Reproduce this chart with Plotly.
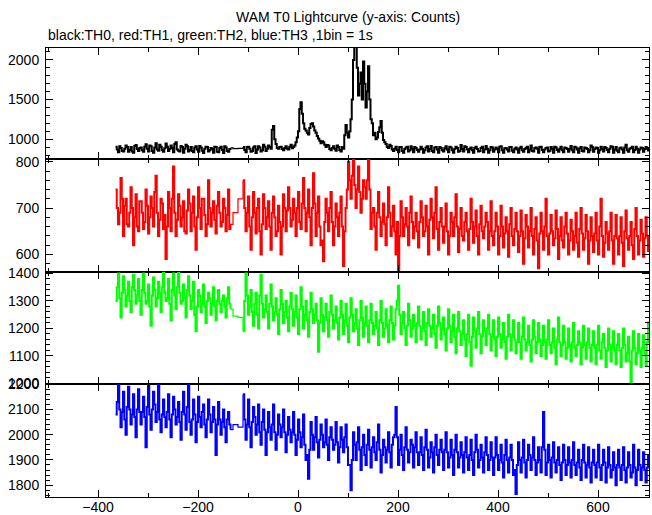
import plotly.graph_objects as go

# ---- time grid: 2.5 s samples, two wide bins inside the data gap ----
t_seg_a = [-365 + 2.5 * j for j in range(93)]    # -365 ... -135
t_gap = [-130, -120]
t_seg_b = [-110 + 2.5 * j for j in range(325)]   # -110 ... 700

# ---- counts: values on the 5 s grid ("even") ----
th0_even_a = [
    905, 835, 890, 845, 920, 840, 900, 830, 925, 850,
    895, 840, 935, 845, 910, 830, 950, 855, 905, 840,
    945, 850, 920, 835, 960, 855, 915, 830, 930, 845,
    900, 835, 910, 840, 895, 825, 905, 845, 890, 830,
    900, 835, 905, 825, 895, 840, 890]
th0_gap = [880, 885]
th0_even_b = [
    900, 835, 905, 840, 895, 825, 910, 845, 930, 850,
    920, 880, 1165, 940, 880, 905, 860, 910, 870, 930,
    900, 960, 1100, 1465, 1200, 1110, 1060, 1190, 1160, 1080,
    1010, 950, 960, 900, 920, 860, 910, 855, 900, 845,
    880, 1180, 1020, 1250, 2000, 2200, 1550, 1840, 1980, 1400,
    1920, 1250, 1050, 1000, 1090, 1230, 990, 940, 890, 915,
    850, 905, 835, 900, 830, 895, 845, 910, 835, 890,
    840, 905, 830, 895, 845, 915, 835, 900, 830, 890,
    845, 910, 835, 895, 830, 905, 840, 925, 845, 900,
    835, 895, 830, 905, 845, 890, 835, 915, 830, 900,
    840, 895, 835, 910, 830, 890, 845, 900, 835, 895,
    830, 905, 840, 890, 835, 920, 845, 895, 830, 905,
    835, 890, 845, 900, 830, 895, 840, 905, 835, 890,
    840, 915, 835, 895, 830, 900, 845, 890, 835, 920,
    840, 895, 830, 905, 845, 890, 835, 910, 830, 900,
    835, 895, 830, 930, 840, 890, 835, 905, 830, 895,
    840, 900, 845]
# values half-way between the 5 s samples ("mid")
th0_mid_a = [
    870, 910, 850, 880, 900, 865, 845, 915, 875, 890,
    860, 905, 880, 920, 850, 895, 870, 930, 860, 885,
    905, 875, 890, 940, 870, 845, 900, 880, 910, 865,
    850, 895, 870, 915, 855, 880, 900, 860, 875, 905,
    840, 890, 865, 910, 850, 875]
th0_mid_b = [
    865, 900, 880, 850, 910, 870, 895, 860, 905, 880,
    900, 1120, 1000, 890, 900, 875, 890, 880, 905, 885,
    920, 1020, 1380, 1320, 1130, 1080, 1140, 1200, 1110, 1040,
    980, 975, 930, 925, 875, 890, 880, 920, 865, 900,
    1050, 1080, 1100, 1500, 2200, 1900, 1700, 1500, 1700, 1600,
    1500, 1200, 1080, 1020, 1150, 1080, 960, 900, 930, 870,
    880, 865, 900, 850, 875, 905, 860, 880, 900, 865,
    870, 880, 860, 910, 875, 850, 895, 870, 900, 860,
    885, 870, 905, 860, 880, 890, 850, 875, 910, 870,
    880, 860, 890, 875, 850, 905, 870, 880, 860, 895,
    870, 880, 905, 860, 885, 870, 900, 855, 880, 870,
    885, 860, 875, 905, 870, 850, 890, 880, 900, 865,
    870, 895, 855, 880, 905, 865, 880, 860, 895, 875,
    880, 860, 905, 870, 885, 850, 895, 875, 860, 900,
    875, 890, 860, 880, 900, 865, 880, 905, 870, 855,
    885, 870, 895, 860, 880, 905, 865, 880, 870, 890,
    875, 880]

th1_even_a = [
    740, 665, 765, 640, 720, 660, 745, 620, 730, 650,
    715, 655, 740, 645, 725, 660, 770, 640, 720, 655,
    590, 735, 650, 790, 640, 730, 660, 715, 645, 740,
    650, 725, 610, 745, 655, 720, 640, 760, 660, 715,
    645, 735, 660, 720, 650, 740, 665]
th1_gap = [690, 720]
th1_even_b = [
    760, 650, 725, 610, 735, 645, 720, 600, 730, 655,
    715, 610, 725, 640, 705, 600, 730, 650, 745, 660,
    720, 640, 735, 655, 765, 650, 740, 620, 775, 640,
    725, 620, 585, 720, 650, 735, 620, 710, 640, 725,
    575, 700, 800, 720, 810, 700, 790, 690, 760, 720,
    810, 655, 700, 610, 735, 640, 710, 620, 745, 640,
    705, 600, 560, 715, 640, 700, 620, 725, 635, 690,
    615, 715, 640, 705, 600, 720, 635, 745, 610, 700,
    625, 710, 600, 690, 640, 730, 605, 700, 630, 690,
    610, 720, 625, 695, 600, 705, 635, 690, 610, 715,
    620, 690, 600, 705, 615, 680, 595, 700, 620, 690,
    605, 695, 580, 685, 615, 700, 600, 680, 570, 690,
    610, 720, 600, 685, 620, 695, 590, 680, 615, 690,
    600, 675, 610, 690, 595, 700, 610, 685, 580, 680,
    605, 690, 600, 720, 595, 670, 610, 690, 580, 685,
    600, 680, 575, 695, 610, 670, 590, 700, 600, 675,
    595, 680, 605]
th1_mid_a = [
    700, 690, 720, 705, 665, 690, 700, 680, 660, 715,
    690, 670, 705, 680, 700, 735, 690, 675, 710, 685,
    660, 700, 720, 690, 675, 705, 680, 650, 695, 710,
    690, 660, 680, 700, 720, 685, 665, 700, 690, 675,
    705, 690, 670, 700, 685, 655]
th1_mid_b = [
    700, 690, 660, 680, 690, 700, 650, 665, 700, 680,
    660, 690, 680, 650, 670, 660, 700, 695, 700, 675,
    690, 700, 670, 710, 700, 690, 680, 700, 710, 690,
    660, 630, 670, 690, 700, 670, 660, 680, 690, 660,
    650, 740, 760, 770, 750, 740, 735, 720, 745, 760,
    740, 690, 660, 690, 680, 670, 665, 680, 690, 660,
    650, 670, 640, 680, 665, 660, 690, 670, 660, 650,
    670, 680, 650, 660, 675, 680, 690, 655, 670, 660,
    660, 650, 640, 670, 680, 660, 655, 640, 670, 650,
    655, 670, 660, 640, 665, 650, 660, 670, 650, 640,
    650, 660, 640, 660, 645, 650, 665, 640, 655, 650,
    640, 650, 635, 660, 650, 640, 655, 630, 645, 650,
    660, 640, 645, 650, 635, 655, 640, 630, 660, 645,
    630, 650, 640, 625, 655, 645, 635, 650, 630, 640,
    645, 630, 660, 640, 625, 645, 650, 630, 640, 635,
    640, 625, 650, 635, 640, 620, 655, 640, 630, 645,
    635, 640]

th2_even_a = [
    1300, 1400, 1240, 1390, 1280, 1370, 1260, 1395, 1290, 1380,
    1250, 1400, 1290, 1360, 1210, 1385, 1280, 1370, 1260, 1405,
    1300, 1380, 1230, 1400, 1270, 1405, 1290, 1360, 1240, 1390,
    1270, 1370, 1190, 1340, 1260, 1360, 1220, 1330, 1250, 1350,
    1230, 1340, 1260, 1320, 1240, 1350, 1270]
th2_gap = [1245, 1240]
th2_even_b = [
    1190, 1400, 1250, 1340, 1210, 1330, 1200, 1395, 1240, 1320,
    1200, 1360, 1230, 1310, 1180, 1340, 1220, 1300, 1190, 1330,
    1210, 1320, 1180, 1350, 1200, 1300, 1170, 1330, 1220, 1290,
    1115, 1310, 1190, 1290, 1170, 1320, 1200, 1280, 1160, 1300,
    1180, 1290, 1150, 1310, 1190, 1270, 1140, 1300, 1170, 1280,
    1150, 1290, 1180, 1260, 1140, 1300, 1170, 1270, 1150, 1280,
    1160, 1270, 1355, 1180, 1260, 1140, 1290, 1170, 1250, 1150,
    1280, 1160, 1260, 1140, 1270, 1170, 1250, 1130, 1280, 1160,
    1240, 1120, 1270, 1150, 1250, 1110, 1260, 1140, 1230, 1100,
    1250, 1064, 1240, 1130, 1260, 1110, 1230, 1140, 1250, 1120,
    1230, 1100, 1240, 1130, 1220, 1090, 1250, 1120, 1230, 1110,
    1220, 1090, 1240, 1120, 1210, 1080, 1230, 1110, 1220, 1100,
    1210, 1090, 1230, 1110, 1200, 1070, 1240, 1100, 1210, 1090,
    1200, 1080, 1220, 1100, 1190, 1070, 1210, 1090, 1200, 1080,
    1190, 1070, 1210, 1090, 1180, 1060, 1200, 1080, 1190, 1070,
    1180, 1060, 1200, 1080, 1170, 995, 1190, 1070, 1180, 1060,
    1175, 1065, 1225]
th2_mid_a = [
    1350, 1310, 1330, 1340, 1320, 1300, 1350, 1340, 1320, 1300,
    1340, 1330, 1300, 1280, 1320, 1340, 1310, 1330, 1350, 1330,
    1310, 1290, 1340, 1320, 1350, 1330, 1300, 1310, 1340, 1320,
    1300, 1250, 1280, 1320, 1290, 1280, 1300, 1310, 1290, 1280,
    1300, 1290, 1300, 1280, 1310, 1290]
th2_mid_b = [
    1300, 1320, 1280, 1260, 1290, 1250, 1320, 1290, 1270, 1260,
    1290, 1280, 1260, 1250, 1270, 1290, 1260, 1240, 1280, 1270,
    1260, 1240, 1270, 1280, 1250, 1230, 1260, 1270, 1250, 1230,
    1220, 1250, 1240, 1230, 1260, 1250, 1230, 1220, 1240, 1250,
    1230, 1210, 1240, 1250, 1220, 1200, 1230, 1240, 1220, 1210,
    1230, 1220, 1210, 1200, 1230, 1220, 1200, 1210, 1230, 1220,
    1210, 1300, 1250, 1220, 1200, 1210, 1230, 1200, 1210, 1220,
    1210, 1200, 1190, 1220, 1210, 1200, 1180, 1210, 1220, 1200,
    1180, 1200, 1210, 1190, 1170, 1200, 1190, 1180, 1160, 1180,
    1150, 1170, 1190, 1200, 1180, 1170, 1190, 1200, 1180, 1170,
    1160, 1170, 1180, 1160, 1150, 1170, 1180, 1170, 1160, 1150,
    1150, 1170, 1160, 1150, 1140, 1160, 1170, 1150, 1160, 1140,
    1150, 1160, 1140, 1150, 1130, 1160, 1150, 1140, 1150, 1130,
    1140, 1150, 1130, 1140, 1150, 1130, 1140, 1150, 1130, 1140,
    1130, 1140, 1120, 1150, 1130, 1120, 1140, 1130, 1120, 1140,
    1120, 1130, 1140, 1110, 1080, 1120, 1130, 1110, 1120, 1130,
    1110, 1150]

th3_even_a = [
    2080, 2200, 2030, 2170, 2000, 2190, 2040, 2160, 1990, 2180,
    2040, 2150, 1950, 2200, 2020, 2170, 2050, 2200, 2010, 2140,
    2030, 2160, 1990, 2150, 2040, 2130, 1980, 2170, 2020, 2200,
    2000, 2140, 1970, 2150, 2030, 2120, 1990, 2140, 2010, 2110,
    1920, 2130, 2000, 2100, 1970, 2090, 2020]
th3_gap = [2040, 2030]
th3_even_b = [
    2160, 1980, 2140, 1950, 2110, 2000, 2120, 1960, 2100, 1920,
    2090, 1980, 2120, 1940, 2080, 1990, 2100, 1930, 2070, 1970,
    2090, 1920, 2060, 1950, 2080, 1900, 1825, 2050, 1940, 2070,
    1910, 2040, 1950, 2060, 1900, 2030, 1940, 2050, 1890, 2030,
    1930, 2040, 1880, 1780, 2010, 1900, 2030, 1860, 2000, 1880,
    2020, 1870, 1990, 1900, 2040, 1850, 1980, 1890, 2010, 1870,
    1990, 2110, 1880, 2000, 1860, 2030, 1890, 1980, 1870, 2010,
    1880, 1990, 1860, 2020, 1870, 1970, 1850, 2000, 1880, 1980,
    1860, 2010, 1870, 1980, 1840, 2000, 1870, 1970, 1850, 1990,
    1860, 1980, 1840, 2000, 1870, 1960, 1850, 1990, 1860, 1970,
    1840, 1990, 1860, 1960, 1830, 1980, 1850, 1960, 1840, 1765,
    1970, 1850, 1980, 1830, 1960, 1860, 1990, 1840, 1950, 1850,
    2090, 1840, 1960, 1830, 1970, 1850, 1950, 1820, 1960, 1840,
    1950, 1830, 1970, 1840, 1940, 1820, 1960, 1830, 1950, 1810,
    1940, 1830, 1960, 1820, 1940, 1810, 1950, 1830, 1930, 1800,
    1940, 1820, 1950, 1810, 1930, 1830, 1960, 1800, 1940, 1820,
    1930, 1810, 1920]
th3_mid_a = [
    2130, 2100, 2090, 2060, 2110, 2100, 2080, 2070, 2100, 2090,
    2090, 2070, 2110, 2080, 2100, 2120, 2090, 2060, 2080, 2070,
    2090, 2060, 2080, 2100, 2070, 2050, 2090, 2080, 2110, 2050,
    2060, 2080, 2050, 2070, 2090, 2040, 2060, 2080, 2050, 2060,
    2040, 2060, 2050, 2030, 2060, 2040]
th3_mid_b = [
    2060, 2040, 2030, 2050, 2070, 2040, 2010, 2050, 2020, 2010,
    2030, 2040, 2010, 2000, 2040, 2030, 2010, 2000, 2020, 2010,
    2000, 1980, 2010, 1990, 1960, 1920, 1940, 2000, 1990, 1970,
    1980, 2000, 1970, 1960, 1990, 1980, 1960, 1970, 1950, 1980,
    1990, 1950, 1880, 1900, 1960, 1970, 1940, 1950, 1920, 1960,
    1940, 1950, 1930, 1970, 1940, 1920, 1950, 1940, 1930, 1960,
    2000, 1990, 1940, 1920, 1950, 1940, 1930, 1960, 1950, 1930,
    1930, 1920, 1950, 1940, 1910, 1930, 1950, 1920, 1940, 1930,
    1940, 1930, 1910, 1920, 1940, 1930, 1910, 1920, 1930, 1910,
    1920, 1900, 1930, 1940, 1900, 1910, 1930, 1920, 1900, 1910,
    1910, 1920, 1900, 1890, 1920, 1900, 1910, 1900, 1860, 1880,
    1900, 1910, 1890, 1900, 1920, 1910, 1900, 1890, 1900, 1950,
    1940, 1890, 1900, 1910, 1890, 1900, 1880, 1890, 1900, 1880,
    1890, 1900, 1880, 1890, 1870, 1900, 1890, 1880, 1870, 1890,
    1880, 1890, 1870, 1880, 1890, 1870, 1880, 1860, 1870, 1880,
    1870, 1880, 1860, 1870, 1880, 1850, 1870, 1860, 1880, 1870,
    1860, 1870]


def interleave(even, mid):
    out = []
    for e, m in zip(even, mid):
        out += [e, m]
    out.append(even[-1])
    return out


series = [
    ("TH0", "#000000", th0_even_a, th0_mid_a, th0_gap, th0_even_b, th0_mid_b),
    ("TH1", "#ff0000", th1_even_a, th1_mid_a, th1_gap, th1_even_b, th1_mid_b),
    ("TH2", "#00ff00", th2_even_a, th2_mid_a, th2_gap, th2_even_b, th2_mid_b),
    ("TH3", "#0000ff", th3_even_a, th3_mid_a, th3_gap, th3_even_b, th3_mid_b),
]

x_range = [-504, 702]
y_ranges = [[750, 2150], [562, 806], [998, 1405], [1753, 2201]]
y_dticks = [500, 100, 100, 100]
y_minor = [100, 20, 20, 20]
domains = [[0.7528, 1.0], [0.5011, 0.7528], [0.2517, 0.5011], [0.0, 0.2517]]

FONT = "Liberation Sans, Arial, Helvetica, sans-serif"
LW = 2.0

fig = go.Figure()
for i, (name, col, ea, ma, gp, eb, mb) in enumerate(series):
    k = "" if i == 0 else str(i + 1)
    ya = interleave(ea, ma)
    yb = interleave(eb, mb)
    # data before the gap and after it
    fig.add_trace(go.Scatter(x=t_seg_a, y=ya, mode="lines", name=name,
                             line=dict(color=col, width=LW, shape="hv"),
                             xaxis="x" + k, yaxis="y" + k, showlegend=False))
    fig.add_trace(go.Scatter(x=t_seg_b, y=yb, mode="lines", name=name,
                             line=dict(color=col, width=LW, shape="hv"),
                             xaxis="x" + k, yaxis="y" + k, showlegend=False))
    # the two wide bins inside the gap, drawn as thin histogram steps
    fig.add_trace(go.Scatter(x=[t_seg_a[-1]] + t_gap + [t_seg_b[0]],
                             y=[ya[-1]] + gp + [yb[0]], mode="lines", name=name,
                             line=dict(color=col, width=1.2, shape="hv"),
                             xaxis="x" + k, yaxis="y" + k, showlegend=False))

layout = dict(
    width=652, height=515,
    margin=dict(l=46, r=3, t=48, b=18, autoexpand=False),
    paper_bgcolor="white", plot_bgcolor="white",
    font=dict(family=FONT, size=14, color="black"),
    showlegend=False,
)
for i in range(4):
    k = "" if i == 0 else str(i + 1)
    layout["xaxis" + k] = dict(
        range=x_range, domain=[0, 1], anchor="y" + k, automargin=False,
        showline=True, linecolor="black", linewidth=1, mirror="ticks",
        ticks="inside", ticklen=7, tickwidth=1, tickcolor="black",
        tick0=0, dtick=200, showgrid=False, zeroline=False,
        showticklabels=(i == 3), ticklabelstandoff=-3,
        tickfont=dict(family=FONT, size=14, color="black"),
        minor=dict(ticks="inside", dtick=100, tick0=0, ticklen=4,
                   tickcolor="black", showgrid=False),
        **({} if i == 3 else {"matches": "x4"}),
    )
    layout["yaxis" + k] = dict(
        range=y_ranges[i], domain=domains[i], anchor="x" + k, automargin=False,
        showline=True, linecolor="black", linewidth=1, mirror="ticks",
        ticks="inside", ticklen=7, tickwidth=1, tickcolor="black",
        tick0=0, dtick=y_dticks[i], showgrid=False, zeroline=False,
        ticklabelstandoff=3,
        tickfont=dict(family=FONT, size=14, color="black"),
        minor=dict(ticks="inside", dtick=y_minor[i], tick0=0, ticklen=4,
                   tickcolor="black", showgrid=False),
    )
fig.update_layout(**layout)

fig.add_annotation(text="WAM T0 Lightcurve (y-axis: Counts)", xref="paper", yref="paper",
                   x=0.5, y=1, yshift=31, xanchor="center", yanchor="middle",
                   showarrow=False, font=dict(family=FONT, size=14, color="black"))
fig.add_annotation(text="black:TH0, red:TH1, green:TH2, blue:TH3 ,1bin = 1s", xref="paper", yref="paper",
                   x=0, y=1, yshift=13, xanchor="left", yanchor="middle",
                   showarrow=False, font=dict(family=FONT, size=14, color="black"))

fig.write_html("out.html", config={"displayModeBar": False},
               post_script="document.body.style.margin='0';")
